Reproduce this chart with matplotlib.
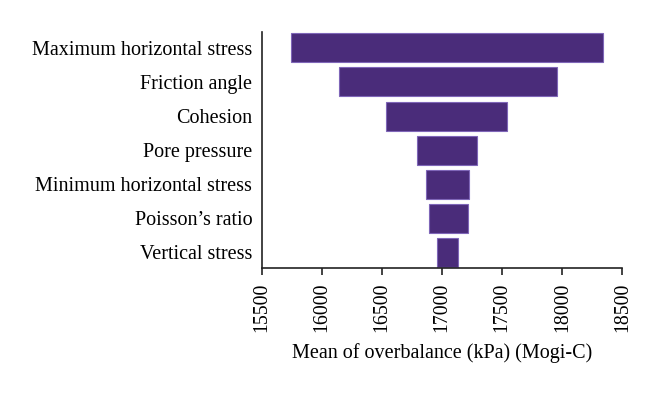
import numpy as np
import matplotlib.pyplot as plt

plt.rcParams['font.family'] = ['Liberation Serif', 'DejaVu Serif']

factors = ["Vertical stress", "Poisson\u2019s ratio", "Minimum horizontal stress",
           "Pore pressure", "Cohesion", "Friction angle", "Maximum horizontal stress"]
low = [16958, 16889, 16868, 16794, 16536, 16137, 15739]
high = [17133, 17211, 17219, 17286, 17536, 17953, 18342]
xticks = [15500, 16000, 16500, 17000, 17500, 18000, 18500]

fig = plt.figure(figsize=(6.6, 3.93), dpi=100)
ax = fig.add_axes([0.397, 0.317, 0.546, 0.602])

y = np.arange(len(factors))
ax.barh(y, np.array(high) - np.array(low), left=low, height=0.85,
        color="#4a2c7a", edgecolor="#7f66b8", linewidth=0.8)

ax.set_xlim(15500, 18500)
ax.set_ylim(-0.47, 6.47)
ax.set_yticks(y)
ax.set_yticklabels(factors, fontsize=14.5)
ax.set_xticks(xticks)
ax.set_xticklabels([str(t) for t in xticks], rotation=90, fontsize=14.3)
ax.tick_params(axis="y", length=0, pad=7)
ax.tick_params(axis="x", length=5, width=1.2, color="#222222", direction="out", pad=5)
ax.set_xlabel("Mean of overbalance (kPa) (Mogi-C)", fontsize=14.5, labelpad=8)

for side in ["top", "right"]:
    ax.spines[side].set_visible(False)
for side in ["left", "bottom"]:
    ax.spines[side].set_linewidth(1.2)
    ax.spines[side].set_color("#222222")

plt.savefig("out.png", dpi=100)
